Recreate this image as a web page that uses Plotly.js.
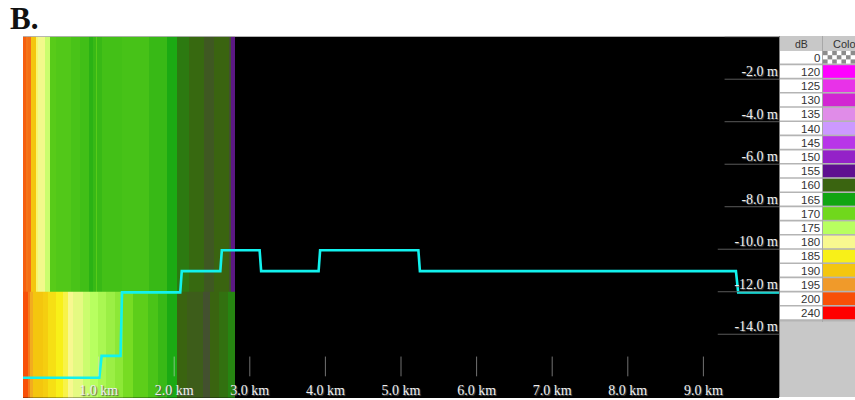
<!DOCTYPE html>
<html><head><meta charset="utf-8">
<script src="https://cdn.plot.ly/plotly-3.0.1.min.js"></script>
<style>html,body{margin:0;padding:0;background:#fff}
.xtick text,.ytick text{font-family:"Liberation Serif",serif !important}</style></head>
<body><div id="c" style="width:855px;height:400px"></div>
<script>
// Range (km) column edges and dB readings of the two depth layers
const rangeEdgesKmTop = [0,0.04,0.07,0.11,0.175,0.2,0.295,0.36,0.44,0.64,0.76,0.87,0.92,0.96,0.98,1.04,1.31,1.67,1.91,2.04,2.19,2.39,2.52,2.72,2.75,2.80];
const dbTop = [199,197.5,198,190,181.5,179.5,176.5,168.7,168.4,167.9,167.5,166.3,167,168.7,167,167.6,167.8,167,165.5,161.7,160.4,159.3,160,158.8,155.5];
const rangeEdgesKmBottom = [0,0.07,0.097,0.136,0.269,0.335,0.44,0.533,0.599,0.665,0.798,0.89,0.996,1.101,1.221,1.327,1.459,1.657,1.789,1.908,2.04,2.173,2.384,2.477,2.589,2.708,2.80];
const dbBottom = [200,197,193,190,189,187,185,183,180,178.5,176.5,175,174,173,172,170.5,169,168,167,165.5,160,159.6,158.8,160,161,162.5];
const depthEdges = [-17,-12,0];
// Bottom-depth track
const trackKm = [0,1.01,1.04,1.29,1.31,2.08,2.10,2.61,2.63,3.13,3.15,3.91,3.93,5.23,5.25,9.43,9.46,10];
const trackDepth = [-16.05,-16.05,-15.02,-15.02,-12.03,-12.03,-11.03,-11.03,-10.05,-10.05,-11.03,-11.03,-10.05,-10.05,-11.03,-11.03,-12.03,-12.03];
// Axes
const xTicks = [1,2,3,4,5,6,7,8,9];
const xLabels = ["1.0 km","2.0 km","3.0 km","4.0 km","5.0 km","6.0 km","7.0 km","8.0 km","9.0 km"];
const yTicks = [-2,-4,-6,-8,-10,-12,-14];
const yLabels = ["-2.0 m","-4.0 m","-6.0 m","-8.0 m","-10.0 m","-12.0 m","-14.0 m"];
// Legend
const legendDb = [0,120,125,130,135,140,145,150,155,160,165,170,175,180,185,190,195,200,240];
const legendColors = [null,"#ff00ff","#e832e8","#d226d2","#e08ce8","#cc99ff","#b835e8","#9422c8","#5f1090","#3a6410","#12a512","#70d81c","#b8ff60","#f8f890","#f8f018","#f4c60e","#f09a2a","#f85008","#ff0000"];

const W=855,H=400,L=23,R=779,T=36.7,B=398;
const zmin=120,zmax=240;
const scale=[];
legendDb.forEach((d,i)=>{ if(i>0) scale.push([(d-zmin)/(zmax-zmin),legendColors[i]]); });

const xs=[...new Set([...rangeEdgesKmTop,...rangeEdgesKmBottom])].sort((a,b)=>a-b);
function pick(edges,vals,x){for(let i=0;i<vals.length;i++){if(x>=edges[i]&&x<edges[i+1])return vals[i];}return null;}
const z=[xs.slice(0,-1).map(x=>pick(rangeEdgesKmBottom,dbBottom,x)),xs.slice(0,-1).map(x=>pick(rangeEdgesKmTop,dbTop,x))];

const traces=[
 {type:'heatmap',x:xs,y:depthEdges,z:z,zmin,zmax,colorscale:scale,showscale:false,hoverinfo:'skip'},
 {type:'scatter',mode:'lines',x:trackKm,y:trackDepth,line:{color:'#12f2ee',width:2.6},hoverinfo:'skip',showlegend:false},
 {type:'scatter',mode:'markers',x:[800],y:[100],xaxis:'x2',yaxis:'y2',marker:{opacity:0},hoverinfo:'skip',showlegend:false}
];

const shapes=[];
xTicks.forEach(k=>shapes.push({type:'line',xref:'x',yref:'y',x0:k,x1:k,y0:-15.05,y1:-15.98,line:{color:'rgba(225,225,225,0.5)',width:1}}));
[0].concat(yTicks).forEach(v=>{const x0=v<=-10?9.19:9.28;shapes.push({type:'line',xref:'x',yref:'y',x0,x1:10,y0:v,y1:v,line:{color:'#5a5a5a',width:1}});});
const rowTop=51, rowH=14.2;
function rect(x0,x1,y0,y1,fill){shapes.push({type:'rect',xref:'x2',yref:'y2',x0,x1,y0,y1,fillcolor:fill,line:{width:0}});}
rect(779,855,36,397,'#c8c8c8');
rect(780,855,51,321.5,'#b4b4b4');
shapes.push({type:'line',xref:'x2',yref:'y2',x0:779.5,x1:779.5,y0:36,y1:397,line:{color:'#808080',width:1}});
legendDb.forEach((d,i)=>{
  const y0=rowTop+i*rowH,y1=y0+rowH-1.6;
  rect(780,822,y0,y1,'#ffffff');
  if(legendColors[i]) rect(823,855,y0,y1,legendColors[i]);
  else { rect(823,855,y0,y1,'#ffffff');
    for(let cx=0;cx<7;cx++)for(let cy=0;cy<3;cy++) if((cx+cy)%2===0) rect(823+cx*4.6,823+(cx+1)*4.6,y0+cy*4.2,y0+(cy+1)*4.2,'#8c8c8c');
  }
});
shapes.push({type:'line',xref:'x2',yref:'y2',x0:822.5,x1:822.5,y0:36,y1:322,line:{color:'#a8a8a8',width:1}});
const ann=[
 {xref:'x2',yref:'y2',x:801,y:44,text:'dB',showarrow:false,font:{family:'Liberation Sans',size:10.5,color:'#333'}},
 {xref:'x2',yref:'y2',x:831,y:44,xanchor:'left',text:'Color',showarrow:false,font:{family:'Liberation Sans',size:11,color:'#333'}}
];
legendDb.forEach((d,i)=>ann.push({xref:'x2',yref:'y2',x:822,xanchor:'right',y:rowTop+i*rowH+6.6,text:String(d),showarrow:false,font:{family:'Liberation Sans',size:11.5,color:'#333'}}));

const tickFont={family:'Liberation Serif',size:14,color:'#f0f0f0',shadow:'1px 1px 1px #555'};
const layout={width:W,height:H,margin:{l:0,r:0,t:0,b:0},paper_bgcolor:'#fff',plot_bgcolor:'#000',showlegend:false,
 font:{family:'Liberation Serif'},
 title:{text:'<b>B.</b>',x:10/W,xanchor:'left',xref:'paper',yref:'paper',y:1-7/H,yanchor:'top',font:{family:'Liberation Serif',size:31,color:'#111'}},
 xaxis:{domain:[L/W,R/W],range:[0,10],tickmode:'array',tickvals:xTicks,ticktext:xLabels,ticks:'',showgrid:false,zeroline:false,showline:false,
   ticklabelposition:'inside',ticklabelstandoff:-3,tickfont:tickFont,anchor:'y'},
 yaxis:{domain:[(H-B)/H,(H-T)/H],range:[-17,0],side:'right',tickmode:'array',tickvals:yTicks,ticktext:yLabels,ticks:'',showgrid:false,zeroline:false,showline:false,
   ticklabelposition:'inside',ticklabelshift:-8,ticklabelstandoff:-2,tickfont:tickFont,anchor:'x'},
 xaxis2:{domain:[779/W,1],range:[779,855],visible:false,anchor:'y2',fixedrange:true},
 yaxis2:{domain:[(H-397)/H,(H-36)/H],range:[397,36],visible:false,anchor:'x2',fixedrange:true},
 shapes,annotations:ann};
Plotly.newPlot('c',traces,layout,{displayModeBar:false,staticPlot:true});
</script></body></html>
